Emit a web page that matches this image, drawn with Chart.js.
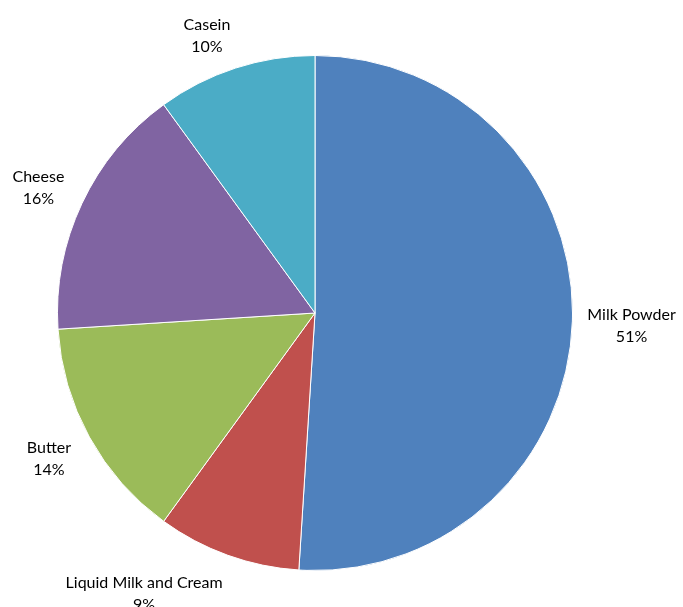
<!DOCTYPE html>
<html>
<head>
<meta charset="utf-8">
<title>Dairy exports by product</title>
<script src="https://cdn.jsdelivr.net/npm/chart.js@4"></script>
<style>
  html, body { margin: 0; padding: 0; background: #fff; }
  #wrap { width: 683px; height: 607px; }
</style>
</head>
<body>
<div id="wrap"><canvas id="pie" width="683" height="607"></canvas></div>
<script>
// Product shares, clockwise from 12 o'clock
const products = ["Milk Powder", "Liquid Milk and Cream", "Butter", "Cheese", "Casein"];
const shares   = [51, 9, 14, 16, 10];
const colors   = ["#4f81bd", "#c0504d", "#9bbb59", "#8064a2", "#4bacc6"];

const LABEL_FONT = "16px Lato, 'Liberation Sans', sans-serif";
const LINE_H = 22;
const GAP = 14;
const TEXT_NUDGE = 3; // Lato sits a little high with a middle baseline

// Outside-end labels: box centre sits on the slice's mid-angle ray, just clear
// of the rim; if a corner still cuts into the pie, slide it sideways.
const outsideLabels = {
  id: "outsideLabels",
  afterDatasetsDraw(chart) {
    const ctx = chart.ctx;
    const meta = chart.getDatasetMeta(0);
    const total = shares.reduce((a, b) => a + b, 0);
    ctx.save();
    ctx.font = LABEL_FONT;
    ctx.fillStyle = "#000";
    ctx.textAlign = "center";
    ctx.textBaseline = "middle";

    meta.data.forEach((arc, i) => {
      const { x: cx, y: cy, startAngle, endAngle, outerRadius: r } = arc.getProps(
        ["x", "y", "startAngle", "endAngle", "outerRadius"], true);
      const mid = (startAngle + endAngle) / 2;
      const dx = Math.cos(mid), dy = Math.sin(mid);

      const lines = [products[i], Math.round(shares[i] / total * 100) + "%"];
      const w = Math.max(...lines.map((t) => ctx.measureText(t).width));
      const h = lines.length * LINE_H;

      const ext = Math.min(
        Math.abs(dx) > 1e-6 ? (w / 2) / Math.abs(dx) : Infinity,
        Math.abs(dy) > 1e-6 ? (h / 2) / Math.abs(dy) : Infinity
      );
      const d = r + GAP + ext;
      let lx = cx + dx * d;
      let ly = cy + dy * d;

      // nearest point of the box to the pie centre
      const near = (bx) => {
        const nx = Math.max(bx - w / 2, Math.min(cx, bx + w / 2));
        const ny = Math.max(ly - h / 2, Math.min(cy, ly + h / 2));
        return Math.hypot(nx - cx, ny - cy);
      };
      let guard = 0;
      while (near(lx) < r + GAP && guard++ < 400) lx += dx < 0 ? -1 : 1;

      lines.forEach((t, k) => {
        ctx.fillText(t, lx, ly - h / 2 + LINE_H / 2 + k * LINE_H + TEXT_NUDGE);
      });
    });
    ctx.restore();
  },
};

new Chart(document.getElementById("pie"), {
  type: "pie",
  data: {
    labels: products,
    datasets: [{
      data: shares,
      backgroundColor: colors,
      borderColor: "#ffffff",
      borderWidth: 1,
    }],
  },
  options: {
    responsive: false,
    animation: false,
    layout: { padding: { top: 55, bottom: 36, left: 57, right: 110 } },
    plugins: {
      legend: { display: false },
      tooltip: { enabled: false },
    },
  },
  plugins: [outsideLabels],
});
</script>
</body>
</html>
